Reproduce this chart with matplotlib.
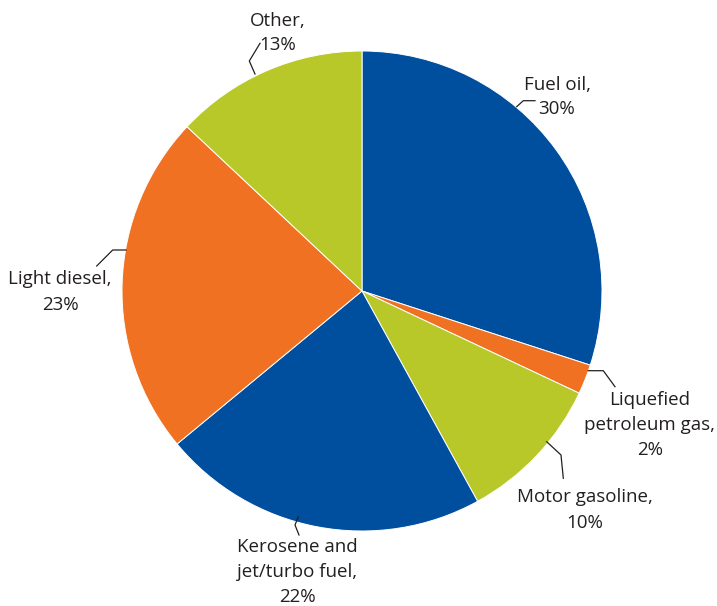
import matplotlib
matplotlib.use("Agg")
import matplotlib.pyplot as plt

categories = ["Fuel oil", "Liquefied\npetroleum gas", "Motor gasoline",
              "Kerosene and\njet/turbo fuel", "Light diesel", "Other"]
values = [30, 2, 10, 22, 23, 13]
colors = ["#004f9f", "#f07122", "#b8c828", "#004f9f", "#f07122", "#b8c828"]

W, H = 717, 606
CX, CY, R = 362, 291, 240

def px(x, y):
    return ((x - CX) / R, (CY - y) / R)

label_pos = [(557, 97), (650, 425), (585, 510), (297, 572), (60, 292), (278, 33)]
leaders = [
    [(516.7, 106.7), (523.3, 100.7), (535, 100.7)],
    [(588.3, 370.7), (603.3, 370.7), (615, 386.7)],
    [(546.7, 441.7), (561, 455), (563.3, 478.3)],
    [(298.3, 516.7), (295, 525), (299, 535)],
    [(126, 250), (112.7, 250), (96.7, 266)],
    [(255, 74), (249.3, 61), (260, 43.3)],
]

plt.rcParams['font.family'] = ['Open Sans', 'DejaVu Sans']
fig = plt.figure(figsize=(W / 100, H / 100), dpi=100)
ax = fig.add_axes([0, 0, 1, 1])
ax.pie(values, colors=colors, startangle=90, counterclock=False, radius=1,
       center=(0, 0), wedgeprops=dict(edgecolor="white", linewidth=0.7))
ax.set_xlim(-CX / R, (W - CX) / R)
ax.set_ylim(-(H - CY) / R, CY / R)
ax.set_aspect('auto')
ax.axis('off')

for cat, v, (lx, ly), pts in zip(categories, values, label_pos, leaders):
    x, y = px(lx, ly)
    ax.text(x, y, f"{cat},\n{v}%", ha='center', va='center', fontsize=13.5,
            color="#231f20", linespacing=1.5)
    xs, ys = zip(*[px(a, b) for a, b in pts])
    ax.plot(xs, ys, color="#231f20", lw=0.9)

fig.savefig("out.png", dpi=100)
